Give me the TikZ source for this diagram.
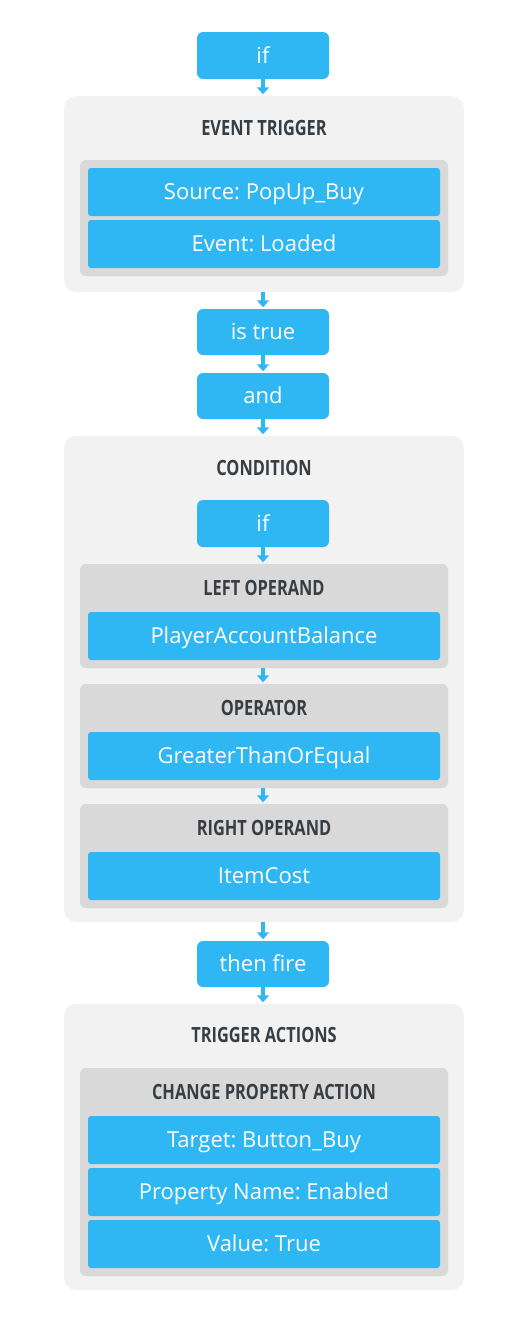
\documentclass[tikz,border=0pt]{standalone}
\usepackage{fontspec}
\setmainfont{Open Sans}
\newfontfamily\hdfont{Open Sans}[FakeStretch=0.78]
\frenchspacing
\usetikzlibrary{arrows.meta}
\definecolor{cblue}{HTML}{2FB7F3}
\definecolor{couter}{HTML}{F2F2F2}
\definecolor{cinner}{HTML}{D9D9D9}
\definecolor{chead}{HTML}{363D43}
\tikzset{
  bluebox/.style={fill=cblue,text=white,rounded corners=6pt,minimum width=132pt,font=\fontsize{22}{26}\selectfont,inner sep=0pt,text height=15.7pt,text depth=0pt},
  row/.style={fill=cblue,text=white,rounded corners=3pt,minimum width=352pt,minimum height=48pt,font=\fontsize{22}{26}\selectfont,inner sep=0pt,text height=15.7pt,text depth=0pt},
  outerbox/.style={fill=couter,rounded corners=12pt,minimum width=400pt,inner sep=0pt},
  innerbox/.style={fill=cinner,rounded corners=6pt,minimum width=368pt,inner sep=0pt},
  head/.style={text=chead,font=\hdfont\bfseries\fontsize{21}{25}\selectfont,inner sep=0pt,text height=15pt,text depth=0pt},
  flow/.style={draw=cblue,line width=4pt,-{Triangle[width=12pt,length=7pt]},shorten >=1.5pt}
}
\begin{document}
\begin{tikzpicture}[x=1pt,y=1pt]
\frenchspacing
\useasboundingbox (0,0) rectangle (528,-1323);
% boxes
\node[bluebox,minimum height=47pt] (if1) at (263,-55.5) {if};
\node[outerbox,minimum height=196pt] (et) at (264,-194) {};
\node[head] (eth) at (264,-128) {EVENT TRIGGER};
\node[innerbox,minimum height=116pt] (etin) at (264,-218) {};
\node[row] (src) at (264,-192) {Source: PopUp\_Buy};
\node[row] (evt) at (264,-244) {Event: Loaded};
\node[bluebox,minimum height=46pt] (istrue) at (263,-332) {is true};
\node[bluebox,minimum height=46pt] (and) at (263,-396) {and};
\node[outerbox,minimum height=486pt] (cond) at (264,-679) {};
\node[head] (condh) at (264,-468) {CONDITION};
\node[bluebox,minimum height=47pt] (if2) at (263,-523.5) {if};
\node[innerbox,minimum height=104pt] (lo) at (264,-616) {};
\node[head] (loh) at (264,-588) {LEFT OPERAND};
\node[row] (lor) at (264,-636) {PlayerAccountBalance};
\node[innerbox,minimum height=104pt] (op) at (264,-736) {};
\node[head] (oph) at (264,-708) {OPERATOR};
\node[row] (opr) at (264,-756) {GreaterThanOrEqual};
\node[innerbox,minimum height=104pt] (ro) at (264,-856) {};
\node[head] (roh) at (264,-828) {RIGHT OPERAND};
\node[row] (ror) at (264,-876) {ItemCost};
\node[bluebox,minimum height=46pt] (then) at (263,-964) {then fire};
\node[outerbox,minimum height=286pt] (ta) at (264,-1147) {};
\node[head] (tah) at (264,-1035) {TRIGGER ACTIONS};
\node[innerbox,minimum height=208pt] (cpa) at (264,-1172) {};
\node[head] (cpah) at (264,-1092) {CHANGE PROPERTY ACTION};
\node[row] (tgt) at (264,-1140) {Target: Button\_Buy};
\node[row] (pn) at (264,-1192) {Property Name: Enabled};
\node[row] (val) at (264,-1244) {Value: True};
% connectors
\draw[flow] (if1.south) -- (et.north -| if1.south);
\draw[flow] (et.south -| istrue.north) -- (istrue.north);
\draw[flow] (istrue.south) -- (and.north);
\draw[flow] (and.south) -- (cond.north -| and.south);
\draw[flow] (if2.south) -- (lo.north -| if2.south);
\draw[flow] (lo.south -| if2.south) -- (op.north -| if2.south);
\draw[flow] (op.south -| if2.south) -- (ro.north -| if2.south);
\draw[flow] (cond.south -| then.north) -- (then.north);
\draw[flow] (then.south) -- (ta.north -| then.south);
\end{tikzpicture}
\end{document}
